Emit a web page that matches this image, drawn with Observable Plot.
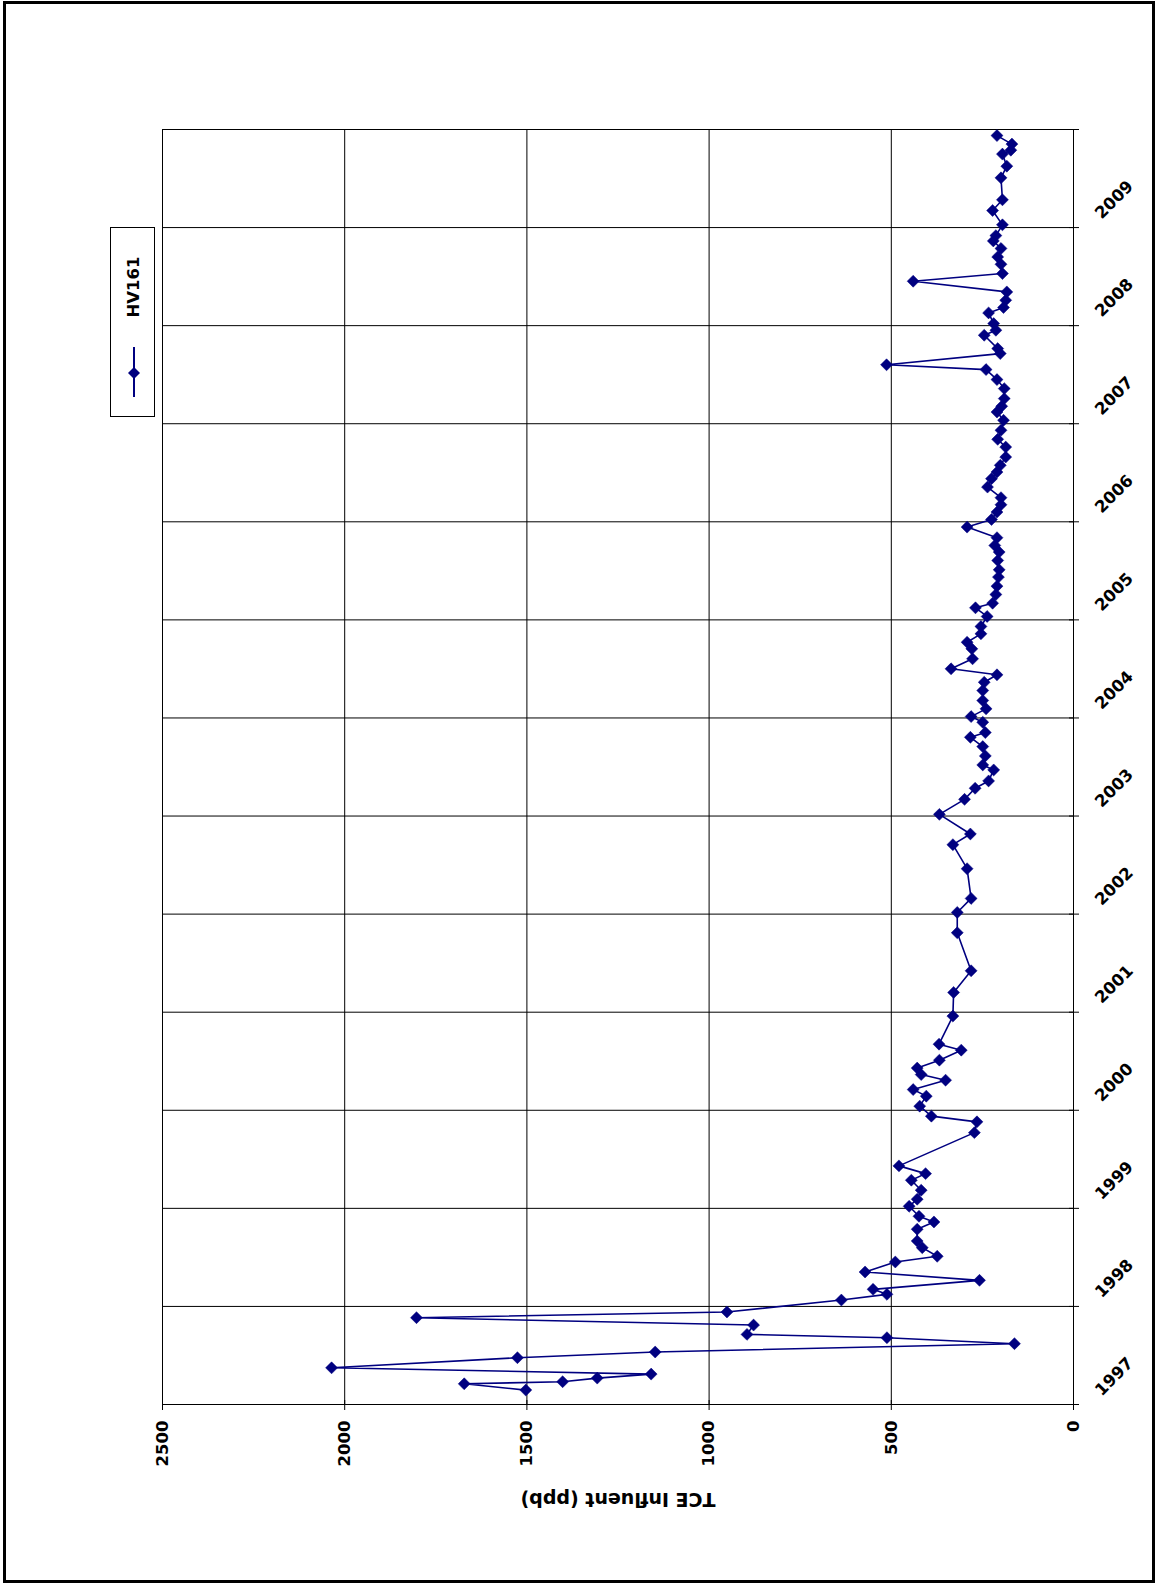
<!DOCTYPE html>
<html><head><meta charset="utf-8">
<script src="https://cdn.jsdelivr.net/npm/d3@7"></script>
<script src="https://cdn.jsdelivr.net/npm/@observablehq/plot@0.6"></script>
<style>
html,body{margin:0;padding:0;background:#fff;}
#page{position:relative;width:1155px;height:1583px;overflow:hidden;font-family:"DejaVu Sans",sans-serif;}
#chart{position:absolute;left:0;top:0;}
#legend{position:absolute;left:0;top:0;}
#border{position:absolute;left:3px;top:1px;width:1152px;height:1582px;border:3px solid #000;box-sizing:border-box;pointer-events:none;}
</style></head><body>
<div id="page"><div id="chart"></div><svg id="legend" width="1155" height="1583"></svg><div id="border"></div></div>
<script>
// Sample dates (decimal years)
const dates = [
1997.147,1997.211,1997.232,1997.269,1997.310,1997.374,1997.477,1997.535,1997.620,1997.681,1997.715,1997.810,1997.885,1997.943,1998.065,1998.123,
1998.174,1998.266,1998.351,1998.453,1998.511,1998.599,1998.667,1998.787,1998.861,1998.919,1999.021,1999.093,1999.185,1999.287,1999.354,1999.433,
1999.772,1999.882,1999.940,2000.042,2000.144,2000.211,2000.307,2000.364,2000.430,2000.511,2000.613,2000.674,2000.960,2001.201,
2001.422,2001.810,2002.017,2002.160,2002.463,2002.708,2002.817,2003.017,2003.170,2003.283,2003.358,2003.470,2003.521,2003.613,2003.708,2003.803,2003.851,2003.956,2004.014,2004.093,2004.178,2004.280,2004.364,2004.440,2004.501,2004.603,2004.705,2004.772,
2004.858,2004.933,2005.035,2005.123,2005.170,2005.259,2005.344,2005.436,2005.511,2005.606,2005.691,2005.759,2005.838,2005.946,2006.024,2006.099,2006.174,2006.246,2006.354,2006.440,2006.507,2006.576,2006.660,2006.762,2006.841,2006.933,2007.035,2007.119,2007.178,2007.256,2007.358,2007.450,2007.552,2007.601,2007.715,2007.766,2007.902,2007.953,2008.021,
2008.130,2008.185,2008.259,2008.344,2008.453,2008.531,2008.626,2008.701,2008.787,2008.864,2008.918,2009.028,2009.174,2009.283,2009.507,2009.626,2009.749,2009.789,2009.851,2009.938
];
// TCE influent (ppb) for series HV161
const values = [
1503,1672,1402,1307,1159,2036,1526,1148,162,512,896,878,1803,951,637,512,
550,258,572,489,374,415,429,429,383,424,451,429,418,445,406,479,
272,265,390,422,404,440,351,418,429,368,308,369,331,329,
281,319,319,281,292,331,283,368,299,270,233,219,249,242,249,283,242,249,281,240,249,249,245,210,336,277,279,292,
254,254,237,269,222,213,210,206,204,208,204,216,210,292,225,210,199,199,236,225,210,201,186,186,208,199,192,210,197,190,190,210,240,513,201,208,245,213,219,
233,192,186,183,440,195,199,208,199,220,213,195,222,195,199,183,195,172,169,210
];
const valueTicks = [0, 500, 1000, 1500, 2000, 2500];
const yearBoundaries = [1997,1998,1999,2000,2001,2002,2003,2004,2005,2006,2007,2008,2009,2010];
const yearLabels = [1997,1998,1999,2000,2001,2002,2003,2004,2005,2006,2007,2008,2009];
const seriesName = "HV161";
const axisTitle = "TCE Influent (ppb)";
const navy = "#000080";

const data = dates.map((t, i) => ({t, v: values[i]}));

const W = 1155, H = 1583;
const mL = 162, mR = 82, mT = 129, mB = 179;
const plotW = W - mL - mR, plotH = H - mT - mB;
const font = {fontFamily: "DejaVu Sans", fontWeight: "bold", fontSize: 16.5, fill: "#000"};

const chart = Plot.plot({
  width: W, height: H,
  marginLeft: mL, marginRight: mR, marginTop: mT, marginBottom: mB,
  style: {fontFamily: "DejaVu Sans", background: "transparent"},
  x: {domain: [0, 2500], reverse: true, axis: null},
  y: {domain: [1997, 2010], axis: null},
  marks: [
    Plot.ruleX(valueTicks, {x: d => d, stroke: "#000", strokeWidth: 1}),
    Plot.ruleY(yearBoundaries, {y: d => d, stroke: "#000", strokeWidth: 1}),
    Plot.ruleX(valueTicks, {x: d => d, stroke: "#000", insetTop: plotH - 4, insetBottom: -6}),
    Plot.ruleY(yearBoundaries, {y: d => d, stroke: "#000", insetLeft: plotW - 4, insetRight: -6}),
    Plot.line(data, {x: "v", y: "t", stroke: navy, strokeWidth: 1.6}),
    Plot.dot(data, {x: "v", y: "t", symbol: "diamond2", r: 5.4, fill: navy, stroke: navy, strokeWidth: 0.5}),
    Plot.text(valueTicks, {x: d => d, text: d => String(d), frameAnchor: "bottom", rotate: -90,
      textAnchor: "end", lineAnchor: "middle", dy: 16, ...font}),
    Plot.text(yearLabels, {y: d => d + 0.5, text: d => String(d), frameAnchor: "right", rotate: -45,
      textAnchor: "end", lineAnchor: "middle", dx: 57, dy: 5, ...font}),
    Plot.text([axisTitle], {frameAnchor: "bottom", rotate: 180, dy: 88, ...font, fontSize: 19})
  ]
});
document.getElementById("chart").appendChild(chart);

// Legend
const lg = d3.select("#legend");
lg.append("rect").attr("x", 110.5).attr("y", 227.5).attr("width", 44).attr("height", 189)
  .attr("fill", "#fff").attr("stroke", "#000").attr("stroke-width", 1);
lg.append("line").attr("x1", 134).attr("x2", 134).attr("y1", 347).attr("y2", 397)
  .attr("stroke", navy).attr("stroke-width", 2);
lg.append("path").attr("d", d3.symbol(d3.symbolDiamond2, Math.PI * 5.4 * 5.4)())
  .attr("transform", "translate(134,373)").attr("fill", navy);
lg.append("text").text(seriesName).attr("transform", "translate(133,287) rotate(-90)")
  .attr("text-anchor", "middle").attr("dy", "0.35em")
  .attr("font-family", "DejaVu Sans").attr("font-weight", "bold").attr("font-size", 16.5);
</script>
</body></html>
